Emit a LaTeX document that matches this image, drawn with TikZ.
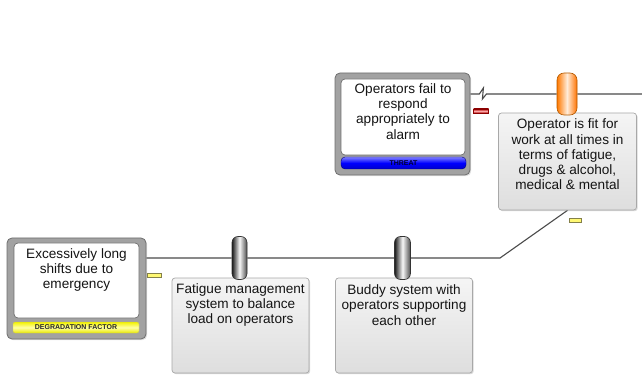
\documentclass[tikz,border=0pt]{standalone}
\usepackage{fontspec}
\setmainfont{Liberation Sans}
\usetikzlibrary{shadows}
\pgfdeclarelayer{wires}
\pgfsetlayers{wires,main}

\definecolor{wire}{HTML}{4A4A4A}
\definecolor{txt}{HTML}{141414}
\definecolor{frame}{HTML}{6E6E6E}
\definecolor{panel}{HTML}{A2A2A2}
\definecolor{ctrlborder}{HTML}{A8A8A8}

\tikzset{
  wireline/.style={draw=wire, line width=1.1pt},
  outerbox/.style={draw=frame, fill=panel, rounded corners=5pt, line width=0.8pt,
    inner sep=0pt, drop shadow={shadow xshift=1.2pt, shadow yshift=-1.2pt, opacity=0.25}},
  innerbox/.style={draw=frame, fill=white, rounded corners=4pt, line width=0.7pt, inner sep=0pt},
  threatbar/.style={draw=blue!45!black, rounded corners=4pt, inner sep=0pt,
    top color=blue!50!white, bottom color=blue!80!black, middle color=blue,
    font=\fontsize{7}{8}\selectfont\bfseries, text=blue!20!black},
  degbar/.style={draw=yellow!50!gray, rounded corners=2pt, inner sep=0pt,
    top color=yellow!95!black, bottom color=yellow!92!black, middle color=yellow!35!white,
    font=\fontsize{7}{8}\selectfont\bfseries, text=black!85},
  ctrlbox/.style={draw=ctrlborder, rounded corners=3pt, line width=0.7pt, inner sep=0pt,
    top color=black!4, bottom color=black!13,
    drop shadow={shadow xshift=1.2pt, shadow yshift=-1.2pt, opacity=0.3}},
  label/.style={align=center, inner sep=0pt, text=txt,
    font=\fontsize{13.6}{15.2}\selectfont},
  darkbarrier/.style={draw=black!80, rounded corners=6pt, inner sep=0pt, line width=0.6pt,
    left color=black!90, right color=black!70, middle color=black!3},
  orangebarrier/.style={draw=orange!70!black, rounded corners=7pt, inner sep=0pt, line width=0.6pt,
    left color=orange!95!red, right color=orange!90!red, middle color=orange!15!white},
  redtab/.style={draw=red!55!black, inner sep=0pt, line width=0.4pt,
    top color=red!70!black, bottom color=red!70!black, middle color=red!30!white},
  yellowtab/.style={draw=yellow!45!black, inner sep=0pt, line width=0.5pt,
    fill=yellow!55!white}
}

\begin{document}
\begin{tikzpicture}[x=1pt, y=-1pt]
\useasboundingbox (0,0) rectangle (642,379);

% threat box
\node[outerbox, minimum width=135pt, minimum height=102pt] (threat) at (402.5,124) {};
\node[innerbox, minimum width=124pt, minimum height=76pt] (threatin) at (403,117) {};
\node[threatbar, minimum width=125pt, minimum height=12pt] (threatlbl) at (403.5,163) {THREAT};
\node[label] (threattxt) at (403,111.5) {Operators fail to\\respond\\appropriately to\\alarm};
\node[redtab, minimum width=15pt, minimum height=4pt] (threattab) at (481,111) {};

% degradation factor box
\node[outerbox, minimum width=139pt, minimum height=101pt] (deg) at (76.5,288.5) {};
\node[innerbox, minimum width=125pt, minimum height=75pt] (degin) at (76.5,280.5) {};
\node[degbar, minimum width=126pt, minimum height=11pt] (deglbl) at (76,327.5) {DEGRADATION FACTOR};
\node[label] (degtxt) at (76.5,270) {Excessively long\\shifts due to\\emergency};
\node[yellowtab, minimum width=14pt, minimum height=4pt] (degtab) at (154.5,275) {};

% control boxes
\node[ctrlbox, minimum width=137pt, minimum height=95pt] (c1) at (240.5,325.5) {};
\node[label] (c1txt) at (240.5,305) {Fatigue management\\system to balance\\load on operators};
\node[ctrlbox, minimum width=137pt, minimum height=95pt] (c2) at (404,325.5) {};
\node[label] (c2txt) at (404,305) {Buddy system with\\operators supporting\\each other};
\node[ctrlbox, minimum width=138pt, minimum height=97pt] (c3) at (567.5,161.5) {};
\node[label] (c3txt) at (567.5,154.5) {Operator is fit for\\work at all times in\\terms of fatigue,\\drugs \& alcohol,\\medical \& mental};
\node[yellowtab, minimum width=12pt, minimum height=4pt] (c3tab) at (575,220) {};

% barriers
\node[darkbarrier, minimum width=15pt, minimum height=43pt] (b1) at (239.5,258) {};
\node[darkbarrier, minimum width=16pt, minimum height=43pt] (b2) at (402.5,258) {};
\node[orangebarrier, minimum width=20pt, minimum height=42pt] (b3) at (567,94) {};

% pathway lines
\coordinate (tstart) at (threat.east |- b3);
\coordinate (tend) at (642,94);
\coordinate (dstart) at (deg.east |- b1);
\coordinate (dbend) at (500,258);
\begin{pgfonlayer}{wires}
  \draw[wireline] (tstart) -- ++(9,0) -- ++(4,-6) -- ++(-1,11) -- ++(4,-5) -- (b3) -- (tend);
  \draw[wireline] (dstart) -- (b1) -- (b2) -- (dbend) -- (c3.south);
\end{pgfonlayer}
\end{tikzpicture}
\end{document}
